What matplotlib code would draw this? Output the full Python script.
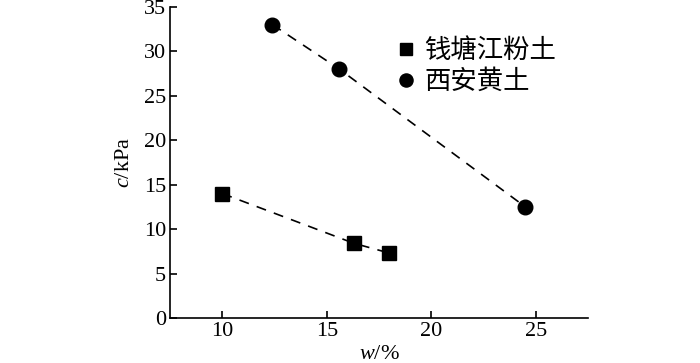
import matplotlib
matplotlib.use("Agg")
import matplotlib.pyplot as plt

plt.rcParams['font.family'] = ['Liberation Serif', 'Noto Sans CJK SC']
plt.rcParams['mathtext.fontset'] = 'custom'
plt.rcParams['mathtext.rm'] = 'Liberation Serif'
plt.rcParams['mathtext.it'] = 'Liberation Serif:italic'

# data
w_qt = [10.0, 16.3, 18.0]      # 钱塘江粉土
c_qt = [14.0, 8.4, 7.3]
w_xa = [12.4, 15.6, 24.5]      # 西安黄土
c_xa = [33.0, 28.0, 12.5]

names = ["钱塘江粉土", "西安黄土"]
xticks = [10, 15, 20, 25]
yticks = [0, 5, 10, 15, 20, 25, 30, 35]

fig = plt.figure(figsize=(7, 3.63), dpi=100)
ax = fig.add_axes([0.243, 0.124, 0.597, 0.857])

dash = dict(color='black', lw=1.2, linestyle=(0, (6, 5)), zorder=1)
ax.plot(w_qt, c_qt, **dash)
ax.plot(w_xa, c_xa, **dash)
ax.plot(w_qt, c_qt, 's', color='black', ms=9.5, ls='none', label=names[0], zorder=2)
ax.plot(w_xa, c_xa, 'o', color='black', ms=10.5, ls='none', label=names[1], zorder=2)

ax.set_xlim(7.5, 27.5)
ax.set_ylim(0, 35)
ax.set_xticks(xticks)
ax.set_yticks(yticks)
ax.spines['top'].set_visible(False)
ax.spines['right'].set_visible(False)
for s in ['left', 'bottom']:
    ax.spines[s].set_linewidth(1.2)
ax.tick_params(direction='in', length=5, width=1.2, labelsize=16, pad=3)

ax.set_xlabel('$w$/%', fontsize=16, labelpad=3)
ax.set_ylabel('$c$/kPa', fontsize=16, labelpad=7)

ax.legend(loc='upper left', bbox_to_anchor=(0.532, 0.90), frameon=False,
          fontsize=19, handlelength=1, handletextpad=0.2, borderpad=0,
          borderaxespad=0, labelspacing=0.25, markerscale=0.9)

fig.savefig('out.png', dpi=100)
